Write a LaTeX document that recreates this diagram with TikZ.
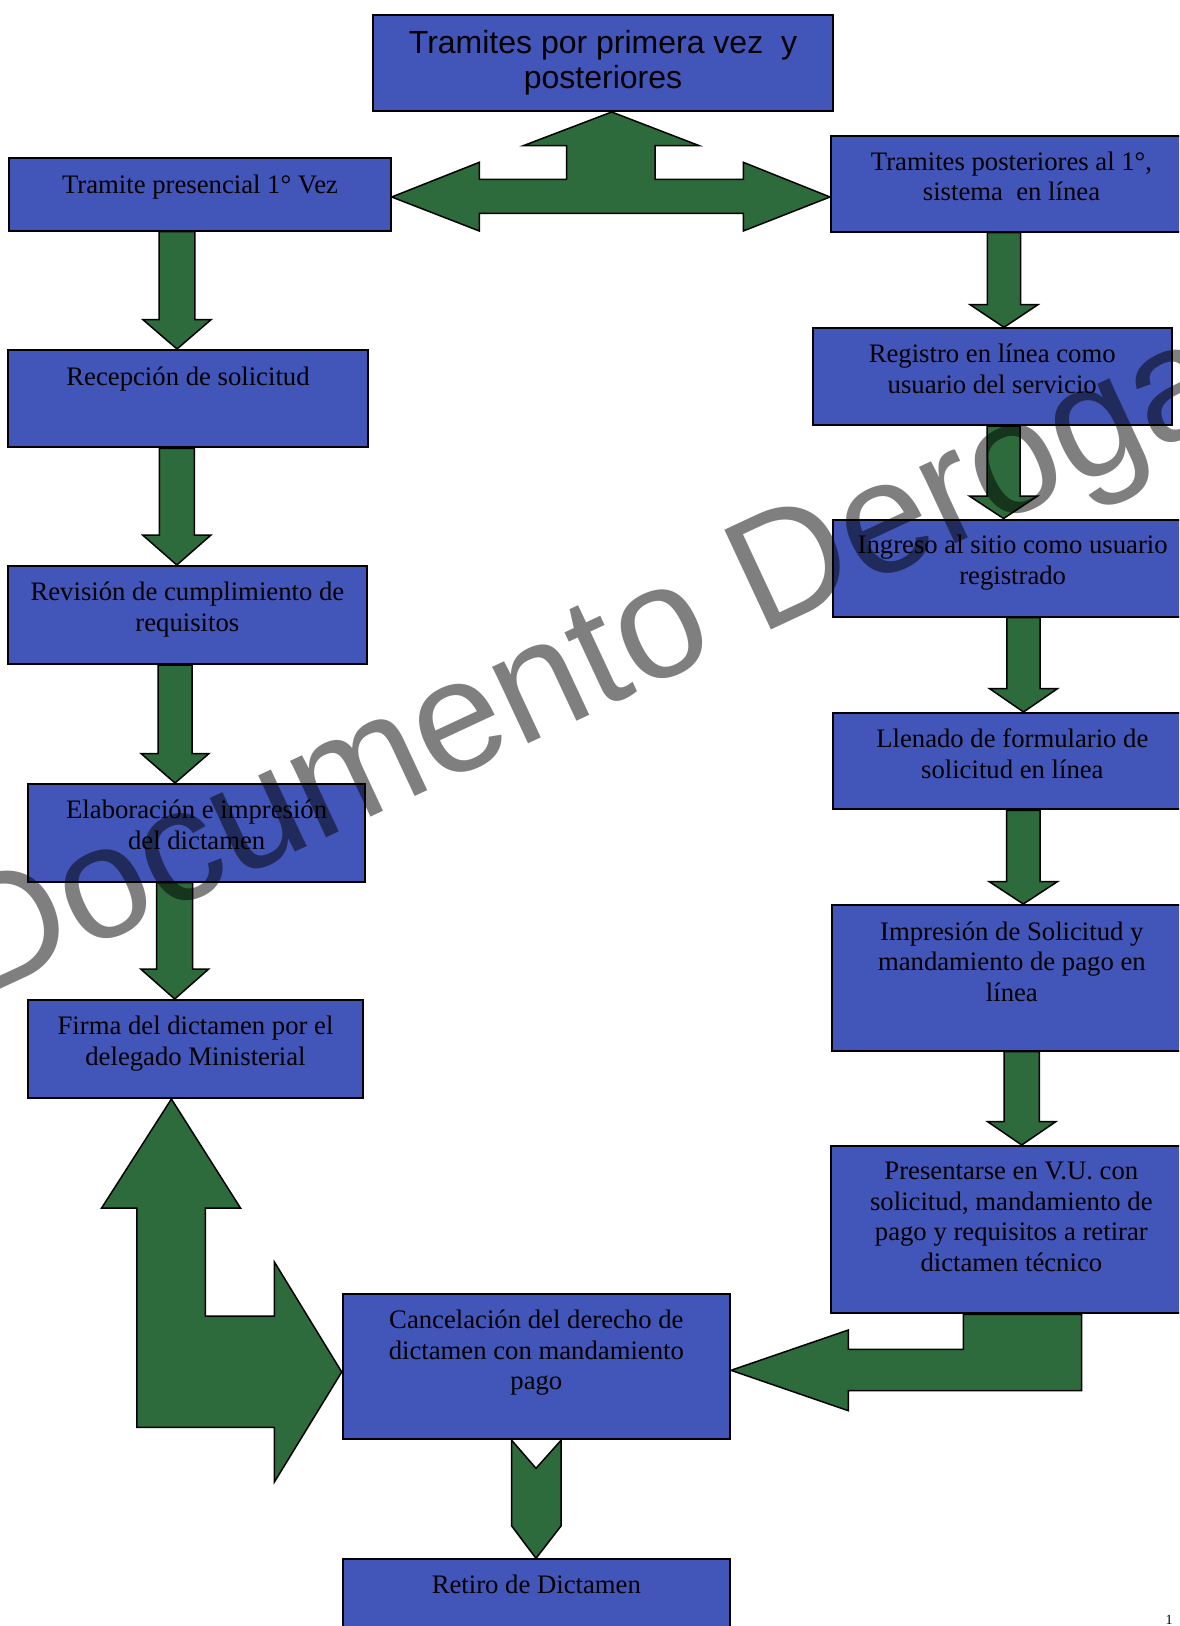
\documentclass[tikz,border=0pt]{standalone}
\usepackage{fontspec}
\setmainfont{Liberation Serif}
\newfontfamily\sansf{Liberation Sans}
\usetikzlibrary{calc,fit}
\definecolor{boxblue}{RGB}{66,85,184}
\definecolor{argreen}{RGB}{46,107,60}
\newcommand\fl{\rule{0pt}{10pt}}
\newcommand\fls{\rule{0pt}{12pt}}
\tikzset{
  bx/.style={rectangle, draw=black, line width=1pt, fill=boxblue, inner sep=0pt},
  lbl/.style={anchor=north, inner sep=0pt, align=center, font=\fontsize{13.35pt}{15.3pt}\selectfont},
  tlbl/.style={anchor=north, inner sep=0pt, align=center, font=\sansf\fontsize{16pt}{17.65pt}\selectfont},
  garrow/.style={fill=argreen, draw=black, line width=0.75pt, line join=miter},
  wm/.style={font=\sansf\fontsize{80pt}{80pt}\selectfont, text=black, text opacity=0.5, inner sep=0pt}
}
% #1 from node, #2 to node, #3 x centre, #4 shaft half, #5 head half, #6 head length (px)
\newcommand\dnarrow[6]{%
  \filldraw[garrow] let \p1=(#1.south), \p2=(#2.north), \p3=(#3,0) in
    ({\x3-#4*0.5pt},\y1) -- ({\x3-#4*0.5pt},{\y2+#6*0.5pt}) -- ({\x3-#5*0.5pt},{\y2+#6*0.5pt})
    -- (\x3,\y2) -- ({\x3+#5*0.5pt},{\y2+#6*0.5pt}) -- ({\x3+#4*0.5pt},{\y2+#6*0.5pt})
    -- ({\x3+#4*0.5pt},\y1) -- cycle;}
\begin{document}
\begin{tikzpicture}[x=0.5pt,y=-0.5pt]
\useasboundingbox (0,0) rectangle (1179,1626);
\clip (0,0) rectangle (1179,1626);

% boxes
\node[bx, fit={(372.7,15) (833.3,111)}] (T) {};
\node[bx, fit={(9.3,158.3) (390.7,230.7)}] (L1) {};
\node[bx, fit={(8.3,350) (367.7,447.3)}] (L2) {};
\node[bx, fit={(8.3,566) (366.5,664)}] (L3) {};
\node[bx, fit={(28.3,784) (365,881.5)}] (L4) {};
\node[bx, fit={(27.7,1000) (363.3,1098)}] (L5) {};
\node[bx, fit={(342.7,1294.3) (730,1439.3)}] (C) {};
\node[bx, fit={(342.7,1559.3) (730,1690)}] (Rt) {};
\node[bx, fit={(831,136) (1192,231.7)}] (R1) {};
\node[bx, fit={(812.7,328.3) (1171.7,425)}] (R2) {};
\node[bx, fit={(833.3,519.5) (1192,616.5)}] (R3) {};
\node[bx, fit={(832.7,713) (1192,809.3)}] (R4) {};
\node[bx, fit={(831.7,905) (1192,1050.7)}] (R5) {};
\node[bx, fit={(830.7,1146) (1192,1313.3)}] (R6) {};

% down arrows
\dnarrow{L1}{L2}{177}{17.8}{34}{29.3}
\dnarrow{L2}{L3}{176.8}{17.5}{34.2}{30}
\dnarrow{L3}{L4}{175}{17}{34}{29.5}
\dnarrow{L4}{L5}{174.7}{18}{34}{30}
\dnarrow{R1}{R2}{1004}{16.7}{34}{22.7}
\dnarrow{R2}{R3}{1003.5}{16.5}{34}{22.4}
\dnarrow{R3}{R4}{1023.5}{16.7}{34}{23.4}
\dnarrow{R4}{R5}{1023.3}{16.7}{34}{22.3}
\dnarrow{R5}{R6}{1021.7}{17.6}{34}{23.3}

% three-way arrow
\filldraw[garrow] (T.south -| 611.7,0) -- (699.3,145.7) -- (655,145.7) -- (655,179.3)
  -- (743.3,179.3) -- (743.3,162.3) -- (R1.west |- 0,197) -- (743.3,231) -- (743.3,213.3)
  -- (479.3,213.3) -- (479.3,231) -- (L1.east |- 0,197) -- (479.3,162.3) -- (479.3,179.3)
  -- (566.7,179.3) -- (566.7,145.7) -- (523.3,145.7) -- cycle;

% big left double arrow
\filldraw[garrow] (L5.south -| 171.4,0) -- (240.6,1208.2) -- (205.3,1208.2) -- (205.3,1316.2)
  -- (274.4,1316.2) -- (274.4,1262) -- (C.west |- 0,1372) -- (274.4,1482) -- (274.4,1427.4)
  -- (136.8,1427.4) -- (136.8,1208.2) -- (101.5,1208.2) -- cycle;

% L-shaped arrow from R6 to C
\filldraw[garrow] (C.east |- 0,1370.3) -- (848.3,1330) -- (848.3,1349.3) -- (963.3,1349.3)
  -- (R6.south -| 963.3,0) -- (R6.south -| 1081.7,0) -- (1081.7,1390.7) -- (848.3,1390.7)
  -- (848.3,1410.7) -- cycle;

% chevron arrow C -> Rt
\filldraw[garrow] (C.south -| 511.7,0) -- (536,1468.3) -- (C.south -| 561,0) -- (561,1526)
  -- (Rt.north -| 536,0) -- (511.7,1526) -- cycle;

% texts
\node[tlbl] (Tt) at ($(T.north)+(0,15)$) {\fls Tramites por primera vez\ \ y\\posteriores};
\node[lbl] (L1t) at ($(L1.north)+(0,15.7)$) {\fl Tramite presencial 1° Vez};
\node[lbl] (L2t) at ($(L2.north)+(0,16.5)$) {\fl Recepción de solicitud};
\node[lbl] (L3t) at ($(L3.north)+(0,15.3)$) {\fl Revisión de cumplimiento de\\requisitos};
\node[lbl] (L4t) at ($(L4.north)+(0,15.3)$) {\fl Elaboración e impresión\\del dictamen};
\node[lbl] (L5t) at ($(L5.north)+(0,15.3)$) {\fl Firma del dictamen por el\\delegado Ministerial};
\node[lbl] (Ct) at ($(C.north)+(0,15)$) {\fl Cancelación del derecho de\\dictamen con mandamiento\\pago};
\node[lbl] (Rtt) at ($(Rt.north)+(0,14.7)$) {\fl Retiro de Dictamen};
\node[lbl] (R1t) at ($(R1.north)+(0,15)$) {\fl Tramites posteriores al 1°,\\sistema\ \ en línea};
\node[lbl] (R2t) at ($(R2.north)+(0,15)$) {\fl Registro en línea como\\usuario del servicio};
\node[lbl] (R3t) at ($(R3.north)+(0,15)$) {\fl Ingreso al sitio como usuario\\registrado};
\node[lbl] (R4t) at ($(R4.north)+(0,15.3)$) {\fl Llenado de formulario de\\solicitud en línea};
\node[lbl] (R5t) at ($(R5.north)+(0,15.7)$) {\fl Impresión de Solicitud y\\mandamiento de pago en\\línea};
\node[lbl] (R6t) at ($(R6.north)+(0,14)$) {\fl Presentarse en V.U. con\\solicitud, mandamiento de\\pago y requisitos a retirar\\dictamen técnico};

% page number (cut)
\node[anchor=north, inner sep=0pt, font=\fontsize{7pt}{7pt}\selectfont] (pg) at (1169,1615) {1};

% watermark
\node[wm, rotate=25, anchor=base west] (wm) at (-22,1000) {Documento Derogado};
\end{tikzpicture}
\end{document}
